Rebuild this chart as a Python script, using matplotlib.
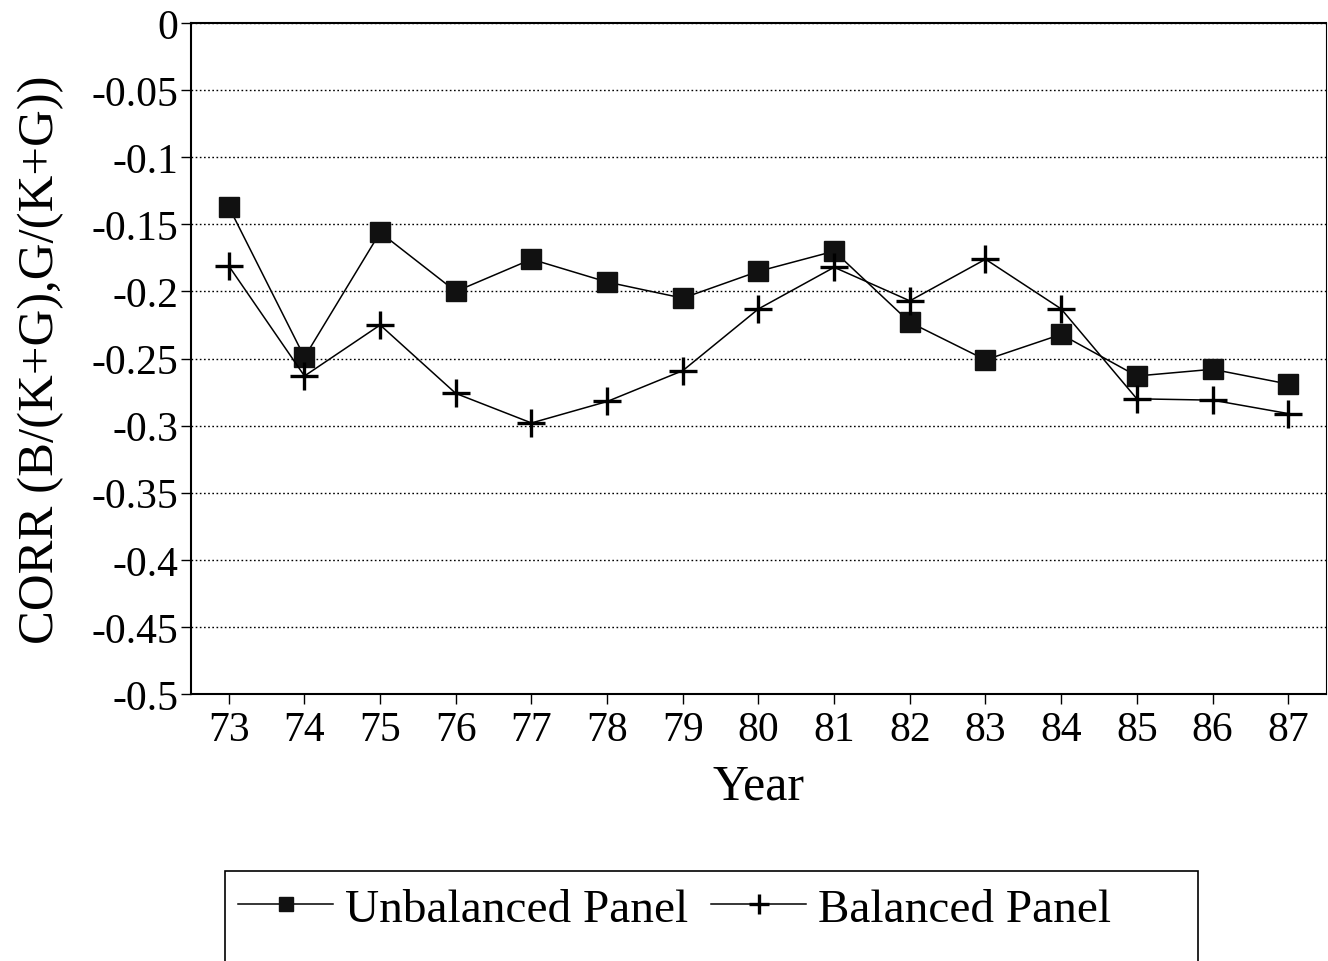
import matplotlib.pyplot as plt
from matplotlib.patches import Rectangle
import numpy as np

plt.rcParams['font.family'] = ['Liberation Serif', 'DejaVu Serif']

# survey years (19xx)
years = [73, 74, 75, 76, 77, 78, 79, 80, 81, 82, 83, 84, 85, 86, 87]

# correlation, unbalanced panel
unbalanced = [-0.137, -0.249, -0.156, -0.200, -0.176, -0.193, -0.205, -0.185,
              -0.170, -0.223, -0.251, -0.232, -0.263, -0.258, -0.269]

# correlation, balanced panel
balanced = [-0.181, -0.263, -0.225, -0.276, -0.298, -0.282, -0.259, -0.213,
            -0.182, -0.207, -0.176, -0.213, -0.280, -0.281, -0.291]

yticks = [0, -0.05, -0.1, -0.15, -0.2, -0.25, -0.3, -0.35, -0.4, -0.45, -0.5]
ytick_labels = ['0', '-0.05', '-0.1', '-0.15', '-0.2', '-0.25', '-0.3',
                '-0.35', '-0.4', '-0.45', '-0.5']

fig = plt.figure(figsize=(13.28, 9.62), dpi=100)
ax = fig.add_axes([0.1438, 0.2775, 0.8547, 0.6975])

ax.plot(years, unbalanced, color='black', lw=1.1, marker='s', ms=15,
        mfc='#111111', mec='#111111', label='Unbalanced Panel')
ax.plot(years, balanced, color='black', lw=1.1, marker='+', ms=20, mew=2.4,
        label='Balanced Panel')

ax.set_xlim(72.5, 87.5)
ax.set_ylim(-0.5, 0)
ax.set_xticks(years)
ax.set_xticklabels([str(y) for y in years])
ax.set_yticks(yticks)
ax.set_yticklabels(ytick_labels)
ax.tick_params(axis='both', labelsize=30, direction='out', length=7, width=1)
ax.tick_params(axis='x', pad=5)
ax.tick_params(axis='y', pad=2)

ax.yaxis.grid(True, linestyle=(0, (1.2, 1.8)), color='black', lw=1.0)
ax.set_axisbelow(True)
for s in ax.spines.values():
    s.set_linewidth(1.5)
ax.spines['right'].set_linewidth(0.8)

ax.set_xlabel('Year', fontsize=36, labelpad=10)
ax.set_ylabel('CORR (B/(K+G),G/(K+G))', fontsize=36.5, labelpad=20)

# legend box runs off the bottom of the page
fig.patches.append(Rectangle((225 / 1328, -0.05), (1198 - 225) / 1328,
                             1.05 - 872 / 962, transform=fig.transFigure,
                             fill=False, ec='black', lw=1.2))
h, l = ax.get_legend_handles_labels()
fig.legend(h, l, loc='center', bbox_to_anchor=(0.508, 1 - 910 / 962), ncol=2,
           frameon=False, fontsize=34, handlelength=2.0, handletextpad=0.25,
           columnspacing=0.5, markerscale=0.7)

plt.savefig('out.png', dpi=100)
plt.close()
